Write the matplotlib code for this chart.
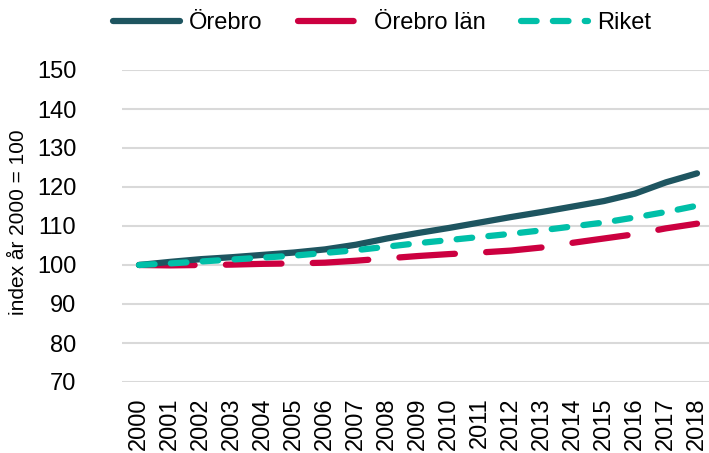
import matplotlib
matplotlib.use("Agg")
import matplotlib.pyplot as plt

plt.rcParams['font.family'] = ['Liberation Sans', 'DejaVu Sans']

years = list(range(2000, 2019))
orebro = [100, 100.8, 101.5, 102.0, 102.6, 103.2, 104.0, 105.2, 106.8, 108.2,
          109.5, 110.9, 112.3, 113.6, 115.0, 116.4, 118.3, 121.2, 123.5]
orebro_lan = [100, 99.9, 100.0, 100.1, 100.3, 100.4, 100.6, 101.1, 101.7, 102.3,
              102.8, 103.2, 103.7, 104.5, 105.7, 106.8, 107.9, 109.4, 110.6]
riket = [100, 100.4, 100.9, 101.4, 101.9, 102.4, 103.1, 103.8, 104.7, 105.6,
         106.4, 107.2, 108.0, 108.9, 109.9, 110.9, 112.2, 113.6, 115.2]
series_names = ["Örebro", "Örebro län", "Riket"]
yticks = [70, 80, 90, 100, 110, 120, 130, 140, 150]
ylabel = "index år 2000 = 100"

c_orebro = "#1E5560"
c_lan = "#CC0040"
c_riket = "#00BFA8"

W, H = 709, 453
fig = plt.figure(figsize=(W / 100, H / 100), dpi=100)
ax = fig.add_axes([122 / W, 1 - 382 / H, (709 - 122) / W, (382 - 70) / H])

lw = 4.5
ax.plot(years, orebro, color=c_orebro, lw=lw, solid_capstyle='round',
        solid_joinstyle='round', label=series_names[0], zorder=3)
ax.plot(years, orebro_lan, color=c_lan, lw=lw, dash_capstyle='round',
        dashes=(8.9, 5.0), label=series_names[1], zorder=2)
ax.plot(years, riket, color=c_riket, lw=lw, dash_capstyle='round',
        dashes=(2.5, 2.6), label=series_names[2], zorder=4)

ax.set_xlim(2000 - 17 / 31, 2018 + 12 / 31)
ax.set_ylim(70, 150)
ax.set_yticks(yticks)
ax.set_xticks(years)
ax.set_xticklabels([str(y) for y in years], rotation=90)
ax.tick_params(axis='both', length=0, labelsize=17, colors='black')
ax.tick_params(axis='x', pad=11)
ax.tick_params(axis='y', pad=33)
ax.grid(axis='y', color='#D9D9D9', lw=1.5)
ax.set_axisbelow(True)
for s in ax.spines.values():
    s.set_visible(False)
fig.text(19 / W, 1 - 222 / H, ylabel, rotation=90, ha='center', va='center',
         fontsize=15)

leg = ax.legend(loc='center', bbox_to_anchor=(382 / W, 1 - 23 / H),
                bbox_transform=fig.transFigure, ncol=3, frameon=False,
                fontsize=17, handlelength=2.84, handletextpad=0.35,
                columnspacing=1.53)

fig.savefig("out.png", dpi=100)
